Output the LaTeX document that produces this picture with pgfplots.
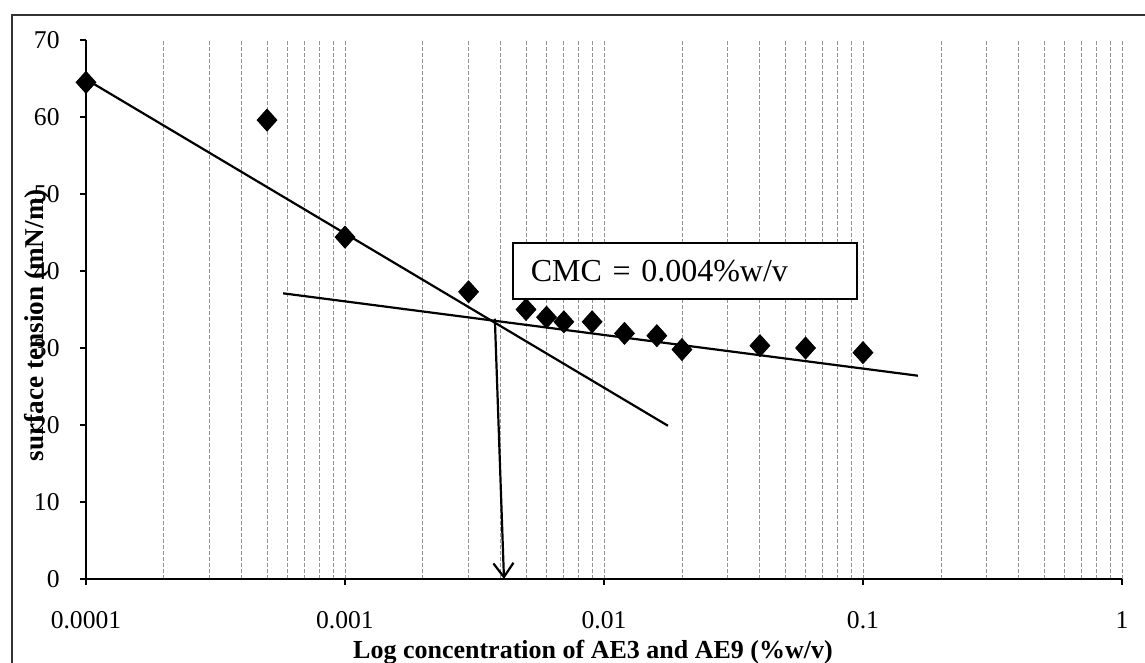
\documentclass[border=0pt]{standalone}
\usepackage{fontspec}
\setmainfont{Liberation Serif}
\usepackage{pgfplots}
\usepackage{pgfplotstable}
\pgfplotsset{compat=1.18}
\usetikzlibrary{arrows.meta}

% surface tension of the AE3/AE9 mixture against concentration
\pgfplotstableread{
conc    tension
0.0001  64.5
0.0005  59.6
0.001   44.4
0.003   37.3
0.005   35.0
0.006   34.0
0.007   33.4
0.009   33.4
0.012   31.9
0.016   31.6
0.02    29.8
0.04    30.3
0.06    30.0
0.1     29.4
}\datatable

\begin{document}
\begin{tikzpicture}
\useasboundingbox (-43pt,-42pt) rectangle (529.5pt,289.5pt);
\begin{axis}[
  at={(0pt,0pt)}, anchor=south west,
  scale only axis, width=518pt, height=269.5pt,
  xmode=log, log basis x=10,
  xmin=1e-4, xmax=1, ymin=0, ymax=70,
  axis x line=bottom, axis y line=left,
  axis line style={-, line width=0.8pt},
  xtick={1e-4,1e-3,1e-2,1e-1,1},
  xticklabels={0.0001,0.001,0.01,0.1,1},
  minor xtick={2e-4,3e-4,4e-4,5e-4,6e-4,7e-4,8e-4,9e-4,
               2e-3,3e-3,4e-3,5e-3,6e-3,7e-3,8e-3,9e-3,
               2e-2,3e-2,4e-2,5e-2,6e-2,7e-2,8e-2,9e-2,
               0.2,0.3,0.4,0.5,0.6,0.7,0.8,0.9},
  ytick={0,10,...,70},
  xmajorgrids=true, xminorgrids=true,
  grid style={gray!85, line width=0.45pt, dash pattern=on 2pt off 1pt},
  minor grid style={gray!85, line width=0.45pt, dash pattern=on 2pt off 1pt},
  tick align=outside, major tick length=3pt, minor tick length=0pt,
  tick style={black, line width=0.8pt},
  /pgf/number format/assume math mode=true,
  tick label style={font=\fontsize{12.8}{14}\selectfont},
  xticklabel style={anchor=north, inner sep=0pt, yshift=-13pt},
  yticklabel style={anchor=east, inner sep=0pt, xshift=-10pt},
  xlabel={Log concentration of AE3 and AE9 (\%w/v)},
  ylabel={surface tension (mN/m)},
  xlabel style={at={(axis description cs:0.4894,-0.1466)}, anchor=base,
    font=\fontsize{13}{15}\selectfont\bfseries},
  ylabel style={at={(axis description cs:-0.0473,0.471)}, anchor=center,
    font=\fontsize{13.6}{15}\selectfont\bfseries},
  clip=false,
]
% measured values
\addplot[only marks, mark=diamond*, mark size=5.5pt,
  mark options={xscale=1.2, fill=black, draw=black}]
  table[x=conc, y=tension] {\datatable};
% fitted line below the CMC
\addplot[black, line width=1.1pt] coordinates {(0.0001,64.9) (0.01766,19.9)};
% fitted line above the CMC
\addplot[black, line width=1.1pt] coordinates {(0.000577,37.1) (0.163,26.4)};
% intersection projected onto the concentration axis
\addplot[black, line width=1.1pt, -{Straight Barb[length=7pt,width=10pt]}]
  coordinates {(0.00379,33.8) (0.00411,0)};
\node[draw, line width=0.8pt, fill=white, anchor=north west,
  inner xsep=9pt, inner ysep=0pt, text width=154pt, minimum height=28pt,
  align=left, font=\fontsize{16}{18}\selectfont]
  at (axis cs:0.004415,43.77) {CMC = 0.004\%w/v};
\end{axis}
% chart frame
\draw[line width=1pt, black!80] (-37pt,-42pt) -- (-37pt,282pt) -- (529.5pt,282pt);
\end{tikzpicture}
\end{document}
